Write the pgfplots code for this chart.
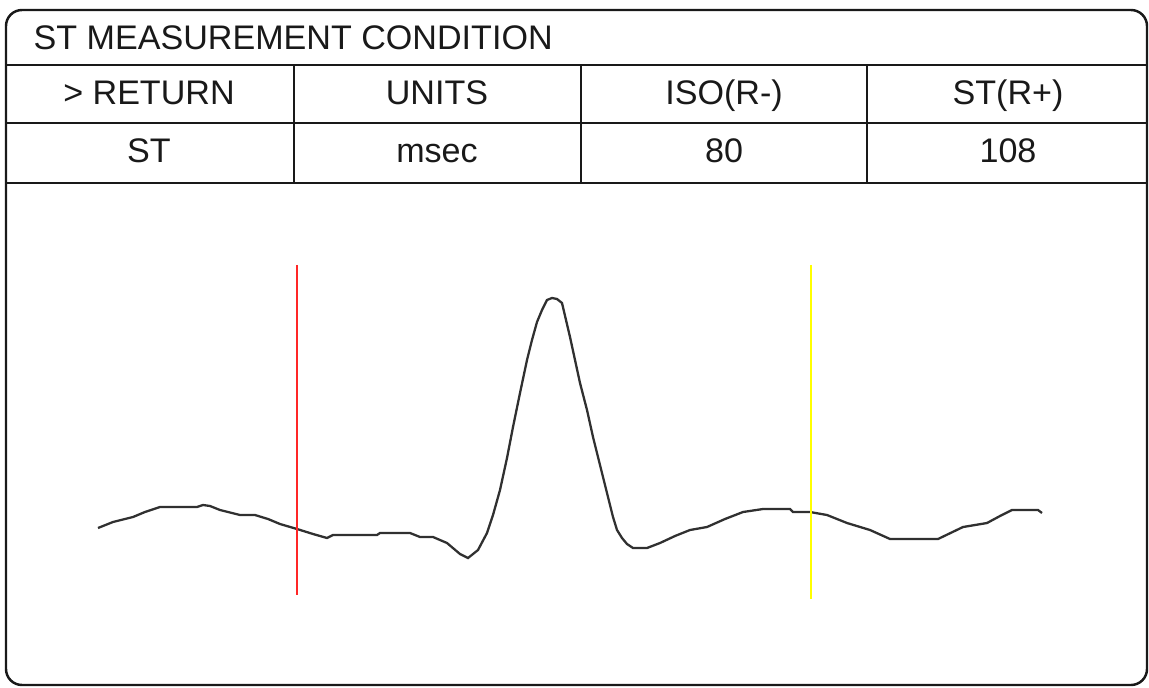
\documentclass[border=0pt]{standalone}
\usepackage{fontspec}
\setmainfont{Liberation Sans}
\usepackage{pgfplots}
\pgfplotsset{compat=1.18}
\definecolor{wave}{HTML}{303030}
\definecolor{isored}{HTML}{FF2626}
\definecolor{styellow}{HTML}{FFFF00}
\begin{document}
\begin{tikzpicture}
\begin{axis}[
  at={(0,0)}, anchor=south west,
  width=11.49cm, height=6.87cm, scale only axis,
  xmin=0, xmax=1149, ymin=0, ymax=687, y dir=reverse,
  axis lines=none, ticks=none, clip=true,
]
% frame and table
\draw[line width=0.7pt, black!90, rounded corners=1.6mm] (axis cs:6,10) rectangle (axis cs:1147,685);
\draw[line width=0.85pt, black!90] (axis cs:6,65) -- (axis cs:1147,65);
\draw[line width=0.85pt, black!90] (axis cs:6,123) -- (axis cs:1147,123);
\draw[line width=0.85pt, black!90] (axis cs:6,183) -- (axis cs:1147,183);
\draw[line width=0.7pt, black!90] (axis cs:294,65) -- (axis cs:294,183);
\draw[line width=0.7pt, black!90] (axis cs:581,65) -- (axis cs:581,183);
\draw[line width=0.7pt, black!90] (axis cs:867,65) -- (axis cs:867,183);
\tikzset{cell/.style={anchor=base, inner sep=0pt, font=\fontsize{9.7pt}{11pt}\selectfont, text=black!90}}
\node[cell, anchor=base west] at (axis cs:33,50) {ST MEASUREMENT CONDITION};
\node[cell] at (axis cs:149,105) {> RETURN};
\node[cell] at (axis cs:437,105) {UNITS};
\node[cell] at (axis cs:724,105) {ISO(R-)};
\node[cell] at (axis cs:1008,105) {ST(R+)};
\node[cell] at (axis cs:149,163) {ST};
\node[cell] at (axis cs:437,163) {msec};
\node[cell] at (axis cs:724,163) {80};
\node[cell] at (axis cs:1008,163) {108};
% waveform
\addplot[wave, line width=0.65pt, mark=none] coordinates {
(98,528) (113,522) (133,517) (145,512) (160,507) (197,507) (203,505) (210,506)
(220,510) (240,515) (255,515) (268,519) (280,524) (297,529) (313,534) (327,538)
(333,535) (377,535) (380,533) (410,533) (420,537) (433,537) (447,543) (460,554)
(468,558) (478,550) (487,533) (493,515) (500,490) (507,458) (513,427) (520,393)
(527,360) (532,340) (537,322) (542,310) (547,300) (552,298) (557,299) (562,303)
(570,337) (580,383) (587,410) (593,437) (598,457) (603,477) (608,497) (613,517)
(617,530) (622,538) (627,544) (633,548) (647,548) (660,543) (675,536) (690,530)
(707,527) (725,519) (743,512) (763,509) (790,509) (793,512) (810,512) (827,515)
(847,523) (870,530) (890,539) (938,539) (963,527) (987,523) (1000,516) (1012,510)
(1038,510) (1042,513)
};
% ISO and ST markers
\addplot[isored, line width=0.6pt, mark=none] coordinates {(297,265) (297,595)};
\addplot[styellow, line width=0.7pt, mark=none] coordinates {(811,265) (811,599)};
\end{axis}
\pgfresetboundingbox
\useasboundingbox (0,0) rectangle (11.49cm,6.87cm);
\end{tikzpicture}
\end{document}
